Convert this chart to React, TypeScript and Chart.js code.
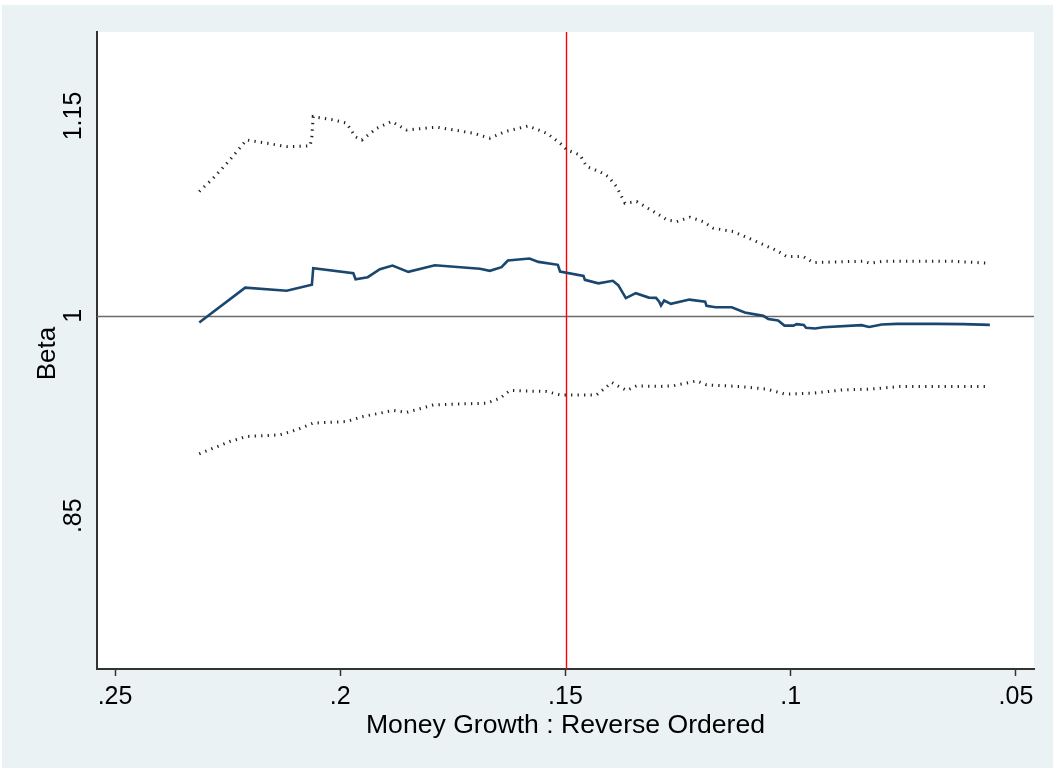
import React, { useEffect, useRef } from "react";
import { Chart, registerables } from "chart.js";

Chart.register(...registerables);

// ---- data ----
const BETA_X = [0.2313, 0.2211, 0.2119, 0.2063, 0.2060, 0.1971, 0.1966, 0.1939, 0.1912, 0.1884, 0.1849, 0.1790, 0.1690, 0.1668, 0.1642, 0.1628, 0.1580, 0.1560, 0.1517, 0.1512, 0.1460, 0.1457, 0.1427, 0.1395, 0.1383, 0.1366, 0.1344, 0.1315, 0.1299, 0.1292, 0.1288, 0.1281, 0.1266, 0.1225, 0.1190, 0.1187, 0.1167, 0.1131, 0.1102, 0.1061, 0.1050, 0.1028, 0.1014, 0.0994, 0.0987, 0.0971, 0.0966, 0.0946, 0.0928, 0.0843, 0.0826, 0.0798, 0.0765, 0.0676, 0.0617, 0.0558];
const BETA_Y = [0.9950, 1.0212, 1.0188, 1.0233, 1.0358, 1.0320, 1.0275, 1.0290, 1.0350, 1.0377, 1.0330, 1.0380, 1.0353, 1.0338, 1.0365, 1.0415, 1.0430, 1.0405, 1.0383, 1.0332, 1.0300, 1.0270, 1.0244, 1.0263, 1.0230, 1.0133, 1.0170, 1.0137, 1.0135, 1.0107, 1.0077, 1.0115, 1.0090, 1.0122, 1.0107, 1.0075, 1.0065, 1.0065, 1.0025, 1.0000, 0.9977, 0.9965, 0.9927, 0.9927, 0.9938, 0.9932, 0.9910, 0.9905, 0.9915, 0.9930, 0.9917, 0.9935, 0.9940, 0.9940, 0.9938, 0.9932];

const UPPER_X = [0.2313, 0.2282, 0.2245, 0.2208, 0.2171, 0.2119, 0.2067, 0.2063, 0.2060, 0.2015, 0.1986, 0.1967, 0.1952, 0.1919, 0.1886, 0.1853, 0.1786, 0.1705, 0.1668, 0.1634, 0.1583, 0.1542, 0.1512, 0.1497, 0.1468, 0.1453, 0.1425, 0.1405, 0.1386, 0.1368, 0.1342, 0.1298, 0.1275, 0.1253, 0.1224, 0.1194, 0.1172, 0.1127, 0.1076, 0.1031, 0.1009, 0.0972, 0.0950, 0.0839, 0.0824, 0.0795, 0.0646, 0.0558];
const UPPER_Y = [1.0933, 1.1033, 1.1170, 1.1320, 1.1300, 1.1270, 1.1275, 1.1345, 1.1495, 1.1470, 1.1446, 1.1345, 1.1320, 1.1408, 1.1458, 1.1395, 1.1416, 1.1371, 1.1333, 1.1383, 1.1425, 1.1371, 1.1296, 1.1245, 1.1208, 1.1120, 1.1083, 1.1045, 1.0966, 1.0845, 1.0857, 1.0770, 1.0720, 1.0707, 1.0740, 1.0707, 1.0658, 1.0632, 1.0557, 1.0490, 1.0445, 1.0445, 1.0400, 1.0410, 1.0395, 1.0410, 1.0410, 1.0395];

const LOWER_X = [0.2313, 0.2282, 0.2245, 0.2208, 0.2134, 0.2097, 0.2060, 0.1986, 0.1949, 0.1882, 0.1853, 0.1793, 0.1675, 0.1645, 0.1623, 0.1542, 0.1512, 0.1460, 0.1431, 0.1397, 0.1379, 0.1364, 0.1342, 0.1290, 0.1261, 0.1209, 0.1187, 0.1113, 0.1053, 0.1013, 0.0950, 0.0883, 0.0824, 0.0757, 0.0558];
const LOWER_Y = [0.8965, 0.9007, 0.9057, 0.9095, 0.9107, 0.9145, 0.9195, 0.9207, 0.9245, 0.9290, 0.9275, 0.9332, 0.9345, 0.9383, 0.9440, 0.9432, 0.9407, 0.9407, 0.9407, 0.9500, 0.9465, 0.9440, 0.9475, 0.9470, 0.9475, 0.9512, 0.9482, 0.9470, 0.9450, 0.9413, 0.9420, 0.9445, 0.9450, 0.9470, 0.9470];

const X_TICKS = [0.25, 0.2, 0.15, 0.1, 0.05];
const X_TICK_LABELS = [".25", ".2", ".15", ".1", ".05"];
const Y_TICKS = [0.85, 1, 1.15];
const Y_TICK_LABELS = [".85", "1", "1.15"];
const X_MIN = 0.046;
const X_MAX = 0.254;
const Y_MIN = 0.735;
const Y_MAX = 1.213;
const Y_REF = 1;
const X_REF = 0.15;
const X_TITLE = "Money Growth : Reverse Ordered";
const Y_TITLE = "Beta";

const FONT = "'Liberation Sans', Arial, sans-serif";
const BG = "#eaf2f3";

const toPts = (xs: number[], ys: number[]) => xs.map((x, i) => ({ x, y: ys[i] }));

const decor = {
  id: "decor",
  beforeDraw(chart: any) {
    const { ctx, chartArea: a } = chart;
    ctx.save();
    ctx.fillStyle = "#ffffff";
    ctx.fillRect(0, 0, chart.width, chart.height);
    ctx.fillStyle = BG;
    ctx.fillRect(2, 5, chart.width - 2, chart.height - 7);
    ctx.fillStyle = "#ffffff";
    ctx.fillRect(a.left, a.top, a.right - a.left, a.bottom - a.top);
    ctx.restore();
  },
  beforeDatasetsDraw(chart: any) {
    const { ctx, chartArea: a, scales } = chart;
    ctx.save();
    const yy = Math.round(scales.y.getPixelForValue(Y_REF)) + 0.5;
    ctx.strokeStyle = "#6a6a6a";
    ctx.lineWidth = 1.4;
    ctx.beginPath();
    ctx.moveTo(a.left, yy);
    ctx.lineTo(a.right, yy);
    ctx.stroke();
    const xx = Math.round(scales.x.getPixelForValue(X_REF)) + 0.5;
    ctx.strokeStyle = "#ff0000";
    ctx.lineWidth = 1.4;
    ctx.beginPath();
    ctx.moveTo(xx, a.top);
    ctx.lineTo(xx, a.bottom);
    ctx.stroke();
    ctx.restore();
  },
  afterDraw(chart: any) {
    const { ctx, chartArea: a, scales } = chart;
    ctx.save();
    ctx.fillStyle = "#000000";
    ctx.font = `25px ${FONT}`;
    ctx.textAlign = "center";
    ctx.textBaseline = "alphabetic";
    Y_TICKS.forEach((v, i) => {
      const py = scales.y.getPixelForValue(v);
      ctx.save();
      ctx.translate(81, py);
      ctx.rotate(-Math.PI / 2);
      ctx.fillText(Y_TICK_LABELS[i], 0, 0);
      ctx.restore();
    });
    ctx.font = `26px ${FONT}`;
    ctx.save();
    ctx.translate(55, (a.top + a.bottom) / 2 + 3);
    ctx.rotate(-Math.PI / 2);
    ctx.fillText(Y_TITLE, 0, 0);
    ctx.restore();
    ctx.font = `26.6px ${FONT}`;
    ctx.fillText(X_TITLE, (a.left + a.right) / 2, 733);
    ctx.restore();
  },
};

export default function App() {
  const ref = useRef<HTMLCanvasElement | null>(null);
  useEffect(() => {
    document.body.style.margin = "0";
    const canvas = ref.current;
    if (!canvas) return;
    const chart = new Chart(canvas, {
      type: "line",
      data: {
        datasets: [
          {
            data: toPts(UPPER_X, UPPER_Y),
            borderColor: "#222222",
            borderWidth: 3,
            borderDash: [1.3, 5.2],
            borderCapStyle: "butt",
            pointRadius: 0,
            tension: 0,
            fill: false,
          },
          {
            data: toPts(LOWER_X, LOWER_Y),
            borderColor: "#222222",
            borderWidth: 3,
            borderDash: [1.3, 5.2],
            borderCapStyle: "butt",
            pointRadius: 0,
            tension: 0,
            fill: false,
          },
          {
            data: toPts(BETA_X, BETA_Y),
            borderColor: "#1a476f",
            borderWidth: 2.6,
            pointRadius: 0,
            tension: 0,
            fill: false,
          },
        ],
      },
      options: {
        animation: false,
        responsive: false,
        devicePixelRatio: 1,
        layout: { padding: { top: 32, right: 19, left: 0, bottom: 0 } },
        plugins: { legend: { display: false }, tooltip: { enabled: false } },
        scales: {
          x: {
            type: "linear",
            reverse: true,
            min: X_MIN,
            max: X_MAX,
            afterFit: (s: any) => {
              s.height = 101;
            },
            afterBuildTicks: (s: any) => {
              s.ticks = X_TICKS.map((value) => ({ value }));
            },
            ticks: {
              autoSkip: false,
              maxRotation: 0,
              minRotation: 0,
              padding: 6,
              color: "#000000",
              font: { family: FONT, size: 25 },
              callback: (v: any) => {
                const i = X_TICKS.indexOf(Number(v));
                return i >= 0 ? X_TICK_LABELS[i] : "";
              },
            },
            grid: {
              display: true,
              drawOnChartArea: false,
              drawTicks: true,
              tickLength: 7,
              tickWidth: 1.5,
              tickColor: "#333333",
            },
            border: { display: true, color: "#333333", width: 2 },
          },
          y: {
            type: "linear",
            min: Y_MIN,
            max: Y_MAX,
            afterFit: (s: any) => {
              s.width = 97;
            },
            ticks: { display: false },
            grid: { display: false },
            border: { display: true, color: "#333333", width: 2 },
          },
        },
      },
      plugins: [decor],
    });
    return () => chart.destroy();
  }, []);
  return <canvas ref={ref} width={1053} height={770} style={{ display: "block", width: 1053, height: 770 }} />;
}
